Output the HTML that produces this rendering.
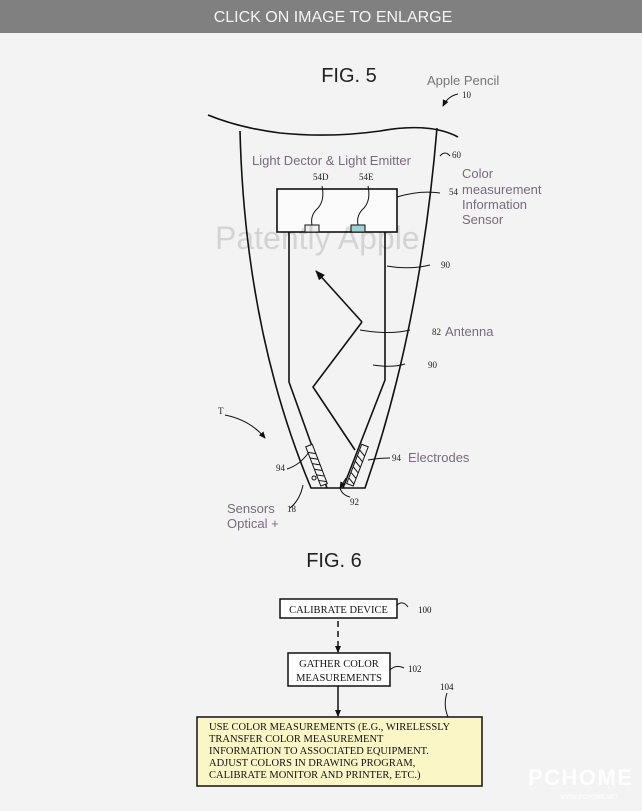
<!DOCTYPE html>
<html><head><meta charset="utf-8"><style>
html,body{margin:0;padding:0;width:642px;height:811px;overflow:hidden;background:#f3f3f3}
</style></head><body>
<svg width="642" height="811" viewBox="0 0 642 811" xmlns="http://www.w3.org/2000/svg">
<defs>
<marker id="ah" markerUnits="userSpaceOnUse" markerWidth="10" markerHeight="10" refX="9" refY="5" orient="auto"><path d="M0,1 L10,5 L0,9 Z" fill="#111"/></marker>
<marker id="as" markerUnits="userSpaceOnUse" markerWidth="7" markerHeight="7" refX="6" refY="3.5" orient="auto"><path d="M0,0.5 L7,3.5 L0,6.5 Z" fill="#111"/></marker>
</defs>
<rect x="0" y="0" width="642" height="33" fill="#808080"/>
<text x="333" y="18" font-family="Liberation Sans, sans-serif" font-size="16" fill="#f4f4f4" text-anchor="middle" dominant-baseline="middle">CLICK ON IMAGE TO ENLARGE</text>
<text x="349" y="82" font-family="Liberation Sans, sans-serif" font-size="20" fill="#222" text-anchor="middle">FIG. 5</text>
<text x="427" y="85" font-family="Liberation Sans, sans-serif" font-size="13" fill="#777">Apple Pencil</text>
<text x="462" y="98" font-family="Liberation Serif, serif" font-size="9" fill="#222">10</text>
<path d="M458,94 Q448,96 443,106" fill="none" stroke="#111" stroke-width="1" marker-end="url(#as)"/>
<g fill="none" stroke="#111" stroke-width="1.6">
<path d="M208,115 Q240,128 280,133 Q330,138 380,131 Q430,122 458,137"/>
<path d="M240,131 Q245,330 311,488 L365,488 Q420,330 437,128"/>
<rect x="277" y="189" width="120" height="43" fill="#fbfbfb"/>
<path d="M289,232 L289,382 L327,488"/>
<path d="M385,232 L385,380 L343,488"/>
<path d="M362,322 L313,387 L355,450"/>
<path d="M362,322 L316,271" marker-end="url(#ah)"/>
</g>
<rect x="305" y="225" width="14" height="7" fill="#eee" stroke="#111"/>
<rect x="351" y="225" width="14" height="7" fill="#9ed3d4" stroke="#111"/>
<g fill="none" stroke="#111" stroke-width="1">
<path d="M312,225 Q310,215 318,208 Q325,200 322,186"/>
<path d="M358,225 Q356,215 364,208 Q371,200 368,186"/>
<path d="M397,197 Q420,190 440,193"/>
<path d="M440,156 Q445,150 450,156"/>
<path d="M387,266 Q410,270 430,265"/>
<path d="M360,330 Q390,335 410,330"/>
<path d="M373,365 Q392,368 405,364"/>
<path d="M225,415 Q250,420 265,438" marker-end="url(#as)"/>
<path d="M287,469 Q300,465 309,452"/>
<path d="M290,508 Q300,500 303,485"/>
<path d="M368,460 Q380,458 390,458"/>
<path d="M340,488 Q342,495 350,497"/>
<g transform="rotate(-21 317 465)"><rect x="313" y="444" width="7" height="42" fill="#f3f3f3"/><path d="M313,450 L320,454 M313,456 L320,460 M313,462 L320,466 M313,468 L320,472 M313,474 L320,478 M313,480 L320,484"/></g>
<g transform="rotate(21 357 465)"><rect x="354" y="444" width="7" height="42" fill="#f3f3f3"/><path d="M354,450 L361,454 M354,456 L361,460 M354,462 L361,466 M354,468 L361,472 M354,474 L361,478 M354,480 L361,484"/></g>
<circle cx="314" cy="478" r="2"/>
<path d="M346,478 L340,488" marker-end="url(#as)"/>
</g>
<g font-family="Liberation Serif, serif" font-size="9" fill="#222">
<text x="313" y="180">54D</text><text x="359" y="180">54E</text>
<text x="452" y="158">60</text><text x="449" y="195">54</text>
<text x="441" y="268">90</text><text x="432" y="335">82</text>
<text x="428" y="368">90</text><text x="218" y="414">T</text>
<text x="276" y="471">94</text><text x="392" y="461">94</text>
<text x="287" y="512">18</text><text x="350" y="505">92</text>
</g>
<g font-family="Liberation Sans, sans-serif" font-size="13" fill="#7a6a80">
<text x="252" y="165">Light Dector &amp; Light Emitter</text>
<text x="462" y="178">Color</text>
<text x="462" y="194">measurement</text>
<text x="462" y="209">Information</text>
<text x="462" y="224">Sensor</text>
<text x="445" y="336">Antenna</text>
<text x="408" y="462">Electrodes</text>
<text x="227" y="513">Sensors</text>
<text x="227" y="528">Optical +</text>
</g>
<text x="215" y="249" font-family="Liberation Sans, sans-serif" font-size="32" fill="#000" fill-opacity="0.13">Patently Apple</text>
<text x="334" y="567" font-family="Liberation Sans, sans-serif" font-size="20" fill="#222" text-anchor="middle">FIG. 6</text>
<g font-family="Liberation Serif, serif" fill="#111">
<rect x="280" y="599" width="117" height="19" fill="#fff" stroke="#111" stroke-width="1.5"/>
<text x="338.5" y="613" font-size="10.5" text-anchor="middle">CALIBRATE DEVICE</text>
<path d="M397,605 Q403,600 408,607" fill="none" stroke="#111"/>
<text x="418" y="613" font-size="9">100</text>
<path d="M338,621 L338,652" stroke="#111" stroke-width="1.5" stroke-dasharray="6,4" fill="none" marker-end="url(#as)"/>
<rect x="288" y="653" width="102" height="33" fill="#fff" stroke="#111" stroke-width="1.5"/>
<text x="339" y="667" font-size="10.5" text-anchor="middle">GATHER COLOR</text>
<text x="339" y="681" font-size="10.5" text-anchor="middle">MEASUREMENTS</text>
<path d="M390,670 Q396,664 404,668" fill="none" stroke="#111"/>
<text x="408" y="672" font-size="9">102</text>
<text x="440" y="690" font-size="9">104</text>
<path d="M447,693 Q443,705 448,717" fill="none" stroke="#111"/>
<path d="M338,686 L338,716" stroke="#111" stroke-width="1.5" fill="none" marker-end="url(#as)"/>
<rect x="197" y="717" width="285" height="69" fill="#fbf6c6" stroke="#111" stroke-width="1.5"/>
<g font-size="10.5">
<text x="209" y="730">USE COLOR MEASUREMENTS (E.G., WIRELESSLY</text>
<text x="209" y="742">TRANSFER COLOR MEASUREMENT</text>
<text x="209" y="754">INFORMATION TO ASSOCIATED EQUIPMENT.</text>
<text x="209" y="766">ADJUST COLORS IN DRAWING PROGRAM,</text>
<text x="209" y="778">CALIBRATE MONITOR AND PRINTER, ETC.)</text>
</g>
</g>
<text x="528" y="785" font-family="Liberation Sans, sans-serif" font-size="22" font-weight="bold" fill="#fff" fill-opacity="0.85" textLength="104">PCHOME</text>
<text x="560" y="799" font-family="Liberation Sans, sans-serif" font-size="6" font-weight="bold" fill="#fff" fill-opacity="0.8">WWW.PCHOME.NET</text>
</svg>
</body></html>
